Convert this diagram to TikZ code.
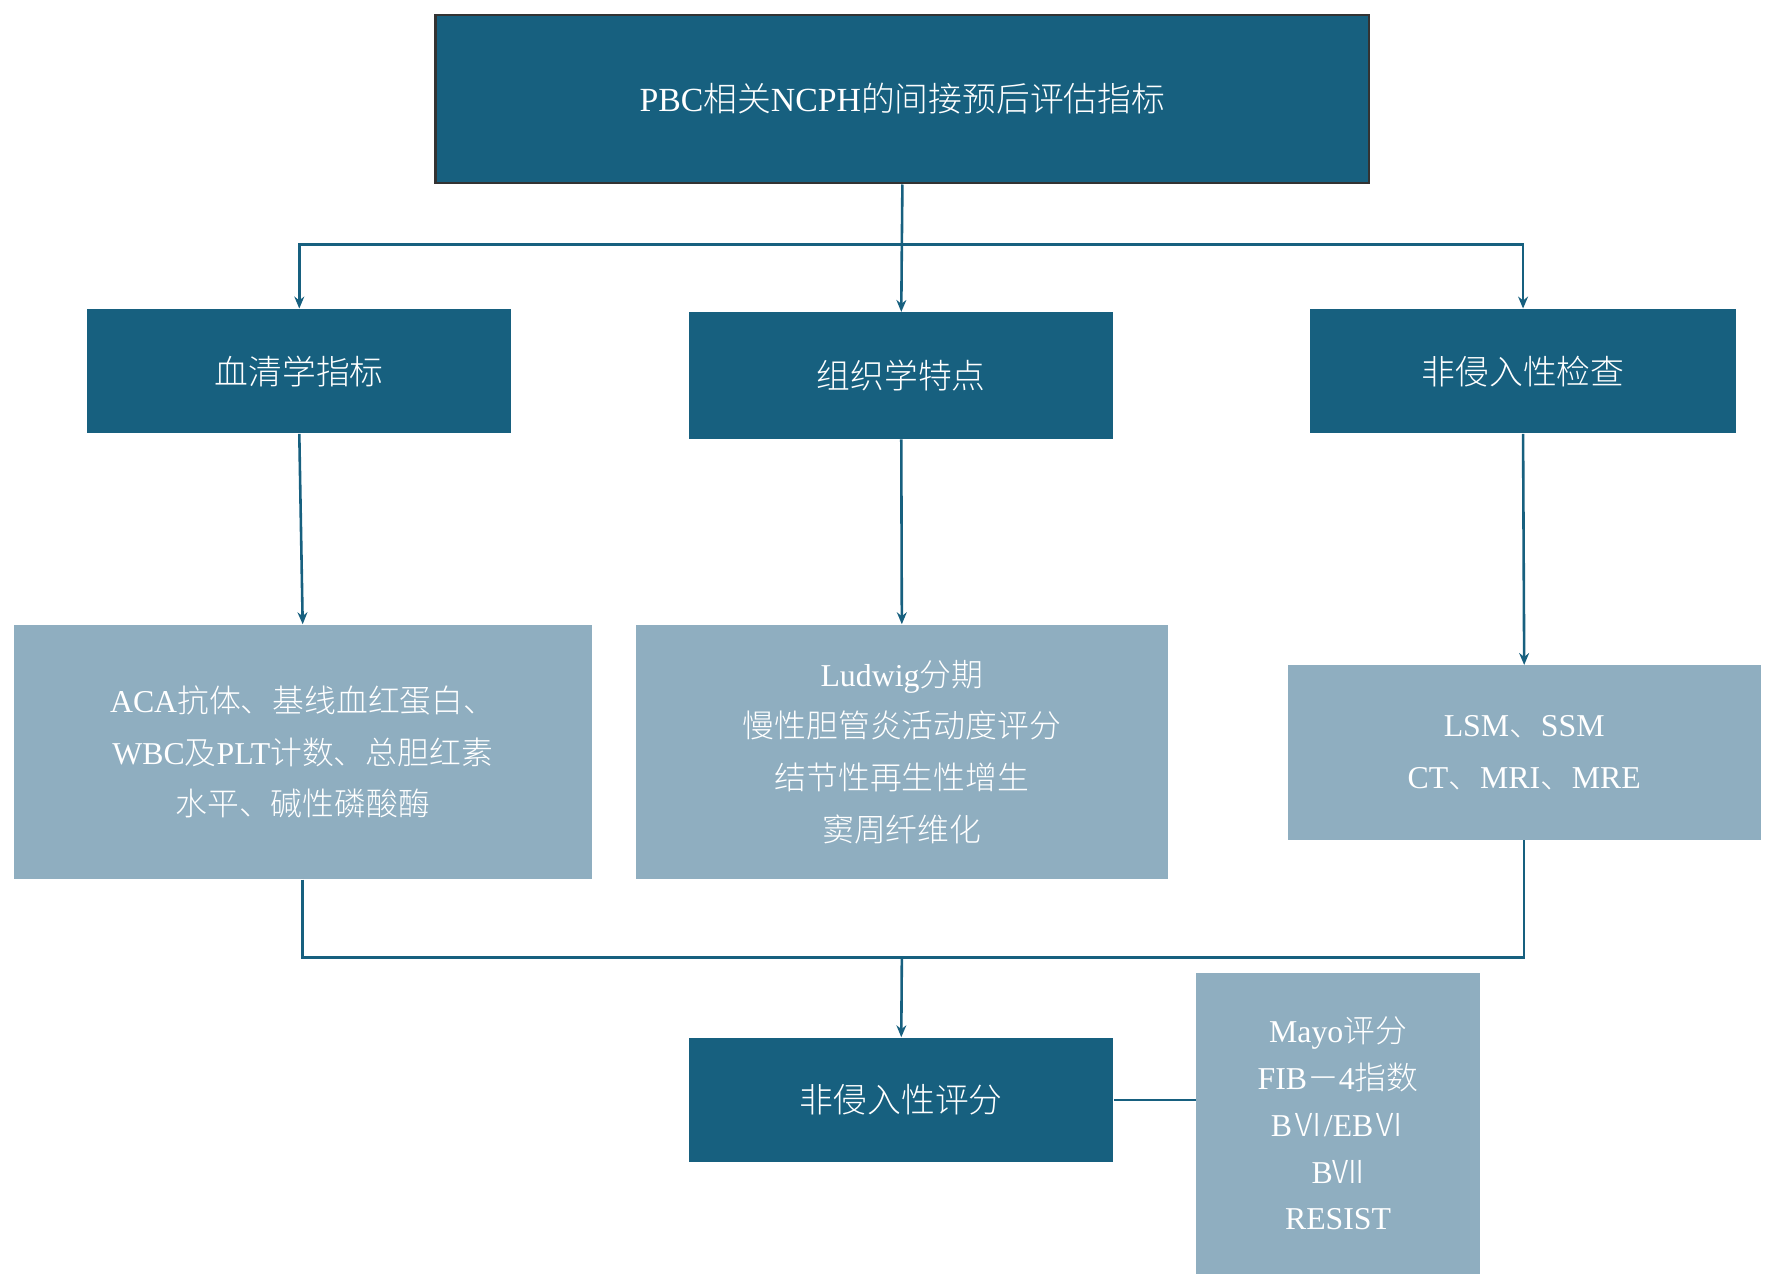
\documentclass[tikz,border=0pt]{standalone}
\usepackage{fontspec}
\setmainfont{Liberation Serif}
\newfontfamily\zhf{Noto Sans CJK SC Light}
\newcommand{\zh}[1]{{\zhf #1}}
\usetikzlibrary{arrows.meta}
\definecolor{dk}{HTML}{17607F}
\definecolor{lt}{HTML}{8FAEC0}
\begin{document}
\begin{tikzpicture}[x=0.02cm,y=-0.02cm,
 dark/.style={fill=dk,draw=none,text=white,font=\fontsize{17}{20}\selectfont},
 light/.style={fill=lt,draw=none,text=white,align=center,font=\fontsize{16}{26}\selectfont},
 ln/.style={draw=dk,line width=1.3pt},
 ar/.style={ln,-{Stealth[length=6pt,width=5pt]}}]
\useasboundingbox (0,0) rectangle (1566,1131);
\node[dark,draw=black!80,line width=1.2pt,minimum width=825*0.02cm,minimum height=149*0.02cm] (t) at (797.5,87.5) {PBC\zh{相关}NCPH\zh{的间接预后评估指标}};
\node[dark,minimum width=375*0.02cm,minimum height=110*0.02cm] (a) at (264.5,328) {\zh{血清学指标}};
\node[dark,minimum width=375*0.02cm,minimum height=112*0.02cm] (b) at (796.5,332) {\zh{组织学特点}};
\node[dark,minimum width=376*0.02cm,minimum height=110*0.02cm] (c) at (1346,328) {\zh{非侵入性检查}};
\node[light,minimum width=511*0.02cm,minimum height=225*0.02cm] (a2) at (267.5,664.5) {ACA\zh{抗体、基线血红蛋白、}\\WBC\zh{及}PLT\zh{计数、总胆红素}\\\zh{水平、碱性磷酸酶}};
\node[light,minimum width=470*0.02cm,minimum height=225*0.02cm] (b2) at (797,664.5) {Ludwig\zh{分期}\\\zh{慢性胆管炎活动度评分}\\\zh{结节性再生性增生}\\\zh{窦周纤维化}};
\node[light,minimum width=418*0.02cm,minimum height=154*0.02cm] (c2) at (1347,665) {LSM\zh{、}SSM\\CT\zh{、}MRI\zh{、}MRE};
\node[dark,minimum width=375*0.02cm,minimum height=110*0.02cm] (d) at (796.5,972) {\zh{非侵入性评分}};
\node[light,minimum width=251*0.02cm,minimum height=266*0.02cm,font=\fontsize{16}{23.5}\selectfont] (e) at (1182.5,993) {Mayo\zh{评分}\\FIB\zh{－}4\zh{指数}\\B\zh{Ⅵ}/EB\zh{Ⅵ}\\B\zh{Ⅶ}\\RESIST};
\coordinate (j) at (797,216);
\draw[ln] (t.south) -- (j);
\draw[ar] (j) -- (b.north);
\draw[ar] (j) -| (a.north);
\draw[ar] (j) -| (c.north);
\draw[ar] (a.south) -- (a2.north);
\draw[ar] (b.south) -- (b2.north);
\draw[ar] (c.south) -- (c2.north);
\coordinate (k) at (797,846);
\draw[ln] (a2.south) |- (k) -| (c2.south);
\draw[ar] (k) -- (d.north);
\draw[ln] (d.east) -- (e.west|-d.east);
\end{tikzpicture}
\end{document}
